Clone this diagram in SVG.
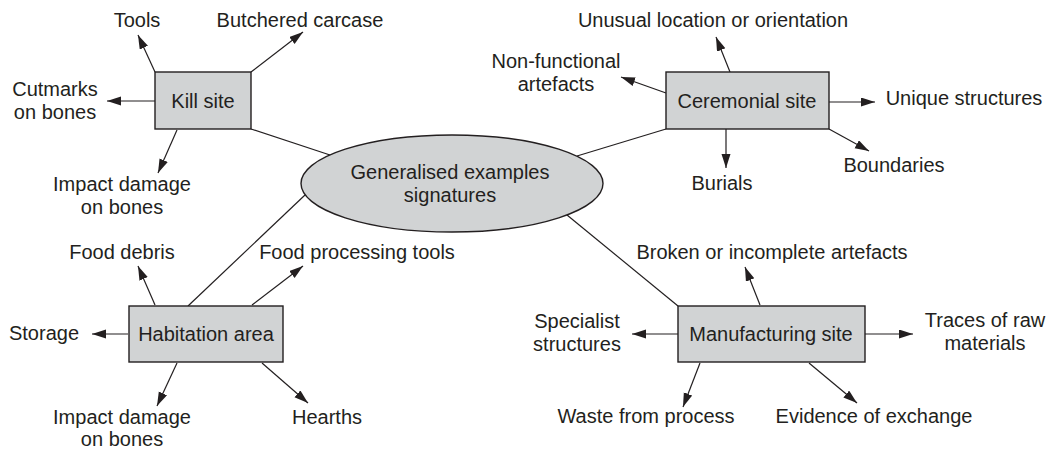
<svg xmlns="http://www.w3.org/2000/svg" width="1050" height="451" viewBox="0 0 1050 451">
  <style>
    .bg { fill: #ffffff; }
    .box { fill: #d1d3d4; stroke: #231f20; stroke-width: 1.4; }
    .link { stroke: #231f20; stroke-width: 1.2; fill: none; }
    .arrow { stroke: #231f20; stroke-width: 1.2; fill: none; marker-end: url(#head); }
    text { font-family: "Liberation Sans", Arial, sans-serif; font-size: 20px; fill: #231f20; text-anchor: middle; }
  </style>
  <defs>
    <marker id="head" markerUnits="userSpaceOnUse" markerWidth="15" markerHeight="10" refX="14" refY="4.5" orient="auto">
      <path d="M0,0 L14,4.5 L0,9 Z" fill="#231f20"/>
    </marker>
  </defs>
  <rect class="bg" x="0" y="0" width="1050" height="451"/>

  <!-- connectors: hub links and outgoing arrows -->
  <g id="connectors">
    <line class="link" x1="251" y1="129" x2="330" y2="155"/>
    <line class="link" x1="577" y1="156" x2="666" y2="129"/>
    <line class="link" x1="305" y1="195" x2="188" y2="306"/>
    <line class="link" x1="567" y1="215" x2="678" y2="306"/>

    <!-- kill site -->
    <line class="arrow" x1="155" y1="72" x2="138" y2="35"/>
    <line class="arrow" x1="251" y1="72" x2="303" y2="32"/>
    <line class="arrow" x1="155" y1="101" x2="107" y2="101"/>
    <line class="arrow" x1="177" y1="130" x2="158" y2="173"/>

    <!-- ceremonial site -->
    <line class="arrow" x1="730" y1="72" x2="716" y2="37"/>
    <line class="arrow" x1="666" y1="93" x2="621" y2="77"/>
    <line class="arrow" x1="829" y1="102" x2="875" y2="102"/>
    <line class="arrow" x1="726" y1="129" x2="726" y2="168"/>
    <line class="arrow" x1="829" y1="129" x2="869" y2="151"/>

    <!-- habitation area -->
    <line class="arrow" x1="155" y1="305" x2="138" y2="266"/>
    <line class="arrow" x1="252" y1="305" x2="303" y2="266"/>
    <line class="arrow" x1="128" y1="334" x2="92" y2="334"/>
    <line class="arrow" x1="177" y1="363" x2="157" y2="406"/>
    <line class="arrow" x1="262" y1="363" x2="308" y2="403"/>

    <!-- manufacturing site -->
    <line class="arrow" x1="760" y1="305" x2="745" y2="267"/>
    <line class="arrow" x1="678" y1="334" x2="632" y2="334"/>
    <line class="arrow" x1="865" y1="334" x2="913" y2="334"/>
    <line class="arrow" x1="700" y1="363" x2="683" y2="407"/>
    <line class="arrow" x1="809" y1="363" x2="857" y2="403"/>
  </g>

  <!-- central hub -->
  <g id="hub">
    <ellipse class="box" cx="452" cy="183.5" rx="151" ry="48.5"/>
    <text x="450" y="179">Generalised examples</text>
    <text x="450" y="202">signatures</text>
  </g>

  <g id="kill-site">
    <rect class="box" x="155" y="72" width="96" height="57"/>
    <text x="203" y="108">Kill site</text>
  </g>
  <g id="kill-tools"><text x="137" y="27">Tools</text></g>
  <g id="kill-carcase"><text x="300" y="27">Butchered carcase</text></g>
  <g id="kill-cutmarks"><text x="55" y="96">Cutmarks</text><text x="55" y="119">on bones</text></g>
  <g id="kill-impact"><text x="122" y="191">Impact damage</text><text x="122" y="214">on bones</text></g>

  <g id="ceremonial-site">
    <rect class="box" x="666" y="72" width="163" height="57"/>
    <text x="747" y="108">Ceremonial site</text>
  </g>
  <g id="cer-location"><text x="713" y="27">Unusual location or orientation</text></g>
  <g id="cer-artefacts"><text x="556" y="68">Non-functional</text><text x="556" y="91">artefacts</text></g>
  <g id="cer-structures"><text x="964" y="105">Unique structures</text></g>
  <g id="cer-burials"><text x="722" y="190">Burials</text></g>
  <g id="cer-boundaries"><text x="894" y="172">Boundaries</text></g>

  <g id="habitation-area">
    <rect class="box" x="129" y="306" width="154" height="56"/>
    <text x="206" y="341">Habitation area</text>
  </g>
  <g id="hab-debris"><text x="122" y="259">Food debris</text></g>
  <g id="hab-tools"><text x="357" y="259">Food processing tools</text></g>
  <g id="hab-storage"><text x="44" y="340">Storage</text></g>
  <g id="hab-impact"><text x="122" y="424">Impact damage</text><text x="122" y="446">on bones</text></g>
  <g id="hab-hearths"><text x="327" y="424">Hearths</text></g>

  <g id="manufacturing-site">
    <rect class="box" x="678" y="306" width="187" height="56"/>
    <text x="771" y="341">Manufacturing site</text>
  </g>
  <g id="man-broken"><text x="772" y="259">Broken or incomplete artefacts</text></g>
  <g id="man-specialist"><text x="577" y="328">Specialist</text><text x="577" y="351">structures</text></g>
  <g id="man-traces"><text x="985" y="327">Traces of raw</text><text x="985" y="350">materials</text></g>
  <g id="man-waste"><text x="646" y="423">Waste from process</text></g>
  <g id="man-exchange"><text x="874" y="423">Evidence of exchange</text></g>
</svg>
